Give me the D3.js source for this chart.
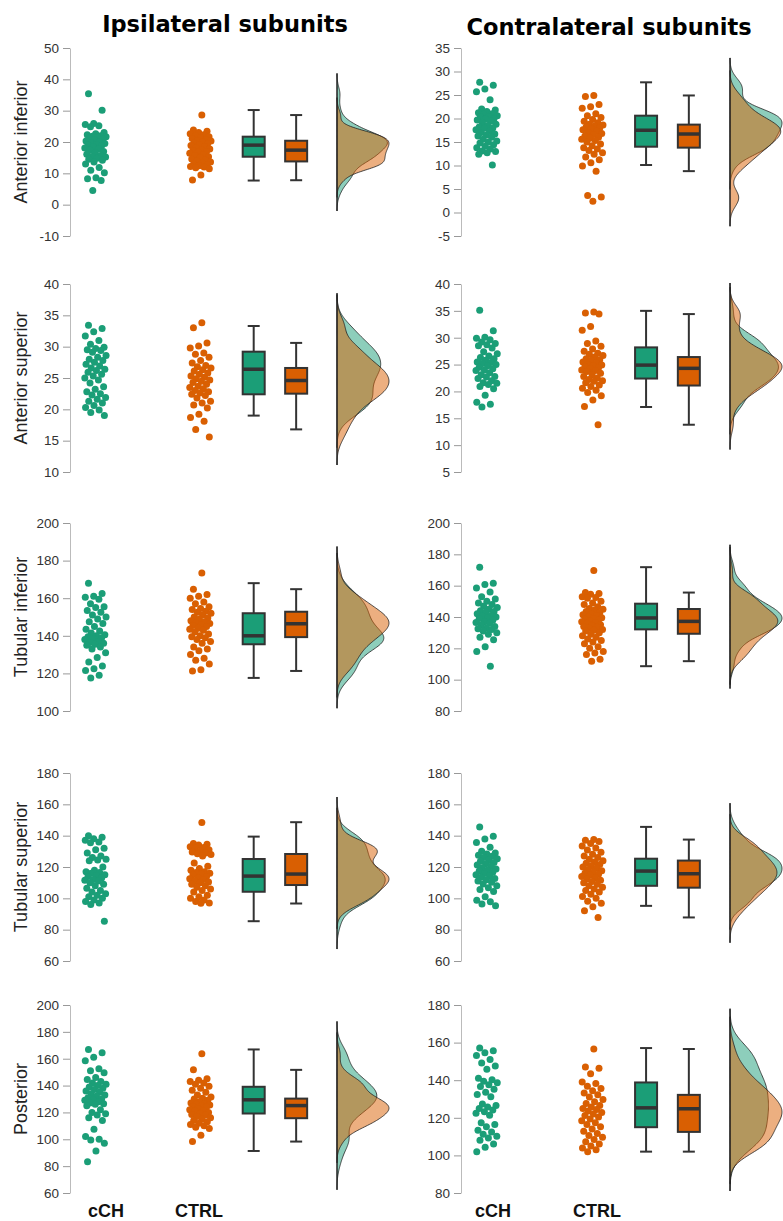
<!DOCTYPE html>
<html>
<head>
<meta charset="utf-8">
<script src="https://cdn.jsdelivr.net/npm/d3@7"></script>
<style>
  body { margin: 0; background: #fff; }
</style>
</head>
<body>
<div id="chart"></div>
<script>
// ---- data ----
const groups = ["cCH", "CTRL"];
const sides = ["Ipsilateral subunits", "Contralateral subunits"];
const subunits = ["Anterior inferior", "Anterior superior", "Tubular inferior", "Tubular superior", "Posterior"];

// y tick values per panel
const ipsiTicks = [
  [-10, 0, 10, 20, 30, 40, 50],
  [10, 15, 20, 25, 30, 35, 40],
  [100, 120, 140, 160, 180, 200],
  [60, 80, 100, 120, 140, 160, 180],
  [60, 80, 100, 120, 140, 160, 180, 200]
];
const contraTicks = [
  [-5, 0, 5, 10, 15, 20, 25, 30, 35],
  [5, 10, 15, 20, 25, 30, 35, 40],
  [80, 100, 120, 140, 160, 180, 200],
  [60, 80, 100, 120, 140, 160, 180],
  [80, 100, 120, 140, 160, 180]
];

// ipsilateral raw points
const ipsiAntInfCCH = [35.4, 30.1, 25.9, 25.6, 25.2, 24.9, 23.0, 22.6, 22.3, 22.0, 21.8, 21.7, 21.5, 21.2, 20.9, 20.6, 20.3, 20.0, 19.8, 19.5, 19.2, 19.0, 18.8, 18.5, 18.1, 17.8, 17.4, 17.0, 16.6, 16.1, 15.7, 15.4, 15.2, 14.8, 14.5, 14.2, 13.6, 13.0, 11.9, 11.0, 10.2, 8.6, 8.3, 7.7, 4.5];
const ipsiAntInfCTRL = [28.6, 23.8, 23.4, 23.0, 22.6, 22.3, 22.0, 21.7, 21.4, 21.1, 20.8, 20.5, 20.3, 20.0, 19.8, 19.5, 19.2, 18.9, 18.6, 18.2, 17.8, 17.5, 17.3, 17.0, 16.7, 16.4, 16.0, 15.7, 15.3, 15.0, 14.6, 14.2, 13.9, 13.6, 13.3, 13.0, 12.7, 12.4, 12.2, 12.0, 11.8, 11.5, 9.5, 7.9];
const ipsiAntSupCCH = [33.4, 32.9, 32.4, 31.7, 31.0, 30.4, 29.9, 29.7, 29.5, 29.4, 29.1, 28.6, 28.3, 28.0, 27.8, 27.5, 27.2, 26.9, 26.6, 26.4, 26.2, 25.9, 25.6, 25.3, 25.0, 24.7, 24.2, 23.6, 23.2, 22.8, 22.5, 22.3, 21.9, 21.6, 21.3, 21.0, 20.6, 20.3, 19.9, 19.5, 19.0];
const ipsiAntSupCTRL = [33.8, 33.0, 30.6, 30.1, 29.8, 29.0, 28.8, 28.3, 27.8, 27.4, 27.0, 26.8, 26.6, 26.3, 26.1, 25.8, 25.6, 25.3, 25.1, 24.9, 24.7, 24.5, 24.3, 24.0, 23.7, 23.5, 23.3, 23.0, 22.8, 22.6, 22.4, 22.2, 21.8, 21.3, 21.0, 20.7, 20.2, 19.2, 18.7, 18.1, 16.8, 15.6];
const ipsiTubInfCCH = [168, 162.5, 161, 160.5, 159.5, 157, 155.5, 155, 153.5, 152.5, 151, 150, 149, 147.5, 146.5, 145, 143.5, 142.5, 141.5, 140.5, 140, 139.5, 139, 138.5, 138, 137, 136.5, 136, 135.5, 135, 134, 133, 131, 128.5, 126, 124, 122.5, 121.5, 119, 117.5];
const ipsiTubInfCTRL = [173.4, 164.8, 162, 161, 160, 158, 157, 155.5, 154.5, 154, 153, 152.5, 152, 151, 150, 149.5, 149, 148, 147.5, 147, 146.5, 146, 145.5, 145, 144, 143.5, 143, 142, 141, 140, 139.5, 139, 138, 137, 136, 134, 133, 132, 130, 128, 127, 125, 122, 121.3];
const ipsiTubSupCCH = [140, 139, 138, 137, 136, 135.5, 132, 131, 129, 127, 126, 125, 124.5, 124, 120, 118, 117, 116.5, 116, 115, 114.5, 114, 113, 112, 111.5, 111, 110, 109, 108, 106.5, 105, 104, 103, 102, 101, 100, 99, 98, 97, 96, 85.4];
const ipsiTubSupCTRL = [148.4, 135, 134.5, 134, 133, 132.5, 132, 131, 130, 129.5, 129, 128.5, 128, 127, 122.5, 120.5, 119, 118, 117, 116.5, 116, 115.5, 115, 114, 113, 112.5, 112, 111, 110.5, 110, 109, 108, 107, 106, 105, 104, 102, 101, 100, 99, 98, 97, 96.8];
const ipsiPostCCH = [166.9, 164.5, 161, 158.5, 152.5, 151, 149.5, 146, 144.5, 143, 142, 141, 140, 139, 138, 137, 136, 135, 134, 133, 132, 131, 130, 129.5, 129, 128, 127, 126.5, 126, 125, 122, 120, 119, 118, 116, 114, 107.5, 102, 100, 99.5, 97, 91.3, 83.3];
const ipsiPostCTRL = [163.7, 151.7, 145, 144, 143, 142, 141, 139.5, 138, 136.5, 135, 133, 131.5, 130.5, 130, 129, 128, 127, 126.5, 126, 125.5, 125, 124.5, 124, 123, 122, 121.5, 121, 120, 119, 118.5, 118, 117, 116, 115, 114, 113, 112, 111, 110, 109, 108, 103, 98.3];

// contralateral raw points
const contraAntInfCCH = [27.7, 27.1, 26.3, 25.7, 24.0, 22.0, 21.8, 21.5, 21.2, 21.0, 20.9, 20.6, 20.4, 20.3, 20.0, 19.9, 19.7, 19.4, 19.1, 18.8, 18.5, 18.2, 18.0, 17.9, 17.6, 17.3, 17.0, 16.7, 16.5, 16.3, 16.0, 15.6, 15.2, 15.0, 14.8, 14.4, 14.1, 13.8, 13.5, 13.1, 13.0, 12.7, 12.4, 10.1];
const contraAntInfCTRL = [24.9, 24.7, 23.0, 22.5, 22.2, 21.0, 20.6, 20.2, 19.8, 19.4, 19.1, 18.8, 18.6, 18.4, 18.2, 18.0, 17.8, 17.6, 17.3, 17.0, 16.8, 16.6, 16.3, 16.0, 15.8, 15.6, 15.3, 15.0, 14.6, 14.2, 13.8, 13.5, 13.2, 12.7, 12.4, 11.8, 11.2, 10.6, 9.9, 8.8, 3.6, 3.3, 2.4];
const contraAntSupCCH = [35.1, 31.3, 30.1, 29.9, 29.6, 29.2, 28.9, 28.7, 28.5, 28.1, 27.4, 27.0, 26.6, 26.3, 26.1, 25.8, 25.5, 25.4, 25.2, 25.0, 24.8, 24.5, 24.2, 24.0, 23.9, 23.5, 23.1, 22.8, 22.7, 22.4, 22.0, 21.6, 21.5, 21.3, 20.9, 20.5, 19.3, 18.0, 17.6, 17.1];
const contraAntSupCTRL = [34.8, 34.6, 34.4, 32.1, 31.4, 29.4, 28.9, 28.4, 27.9, 27.5, 27.1, 26.9, 26.7, 26.4, 26.1, 25.9, 25.8, 25.5, 25.3, 25.0, 24.9, 24.8, 24.6, 24.4, 24.2, 24.0, 23.9, 23.7, 23.4, 23.1, 22.8, 22.5, 22.2, 22.0, 21.9, 21.6, 21.2, 20.9, 20.6, 20.2, 19.8, 19.2, 18.4, 17.2, 13.8];
const contraTubInfCCH = [171.8, 161.5, 160.8, 158.5, 156, 153, 151.5, 150, 149, 148, 147, 146, 145, 144, 143.5, 143, 142, 141, 140.5, 140, 139.5, 139, 138, 137, 136.5, 136, 135, 134, 133, 132.5, 132, 131, 130, 129, 127, 125.5, 121, 118, 108.6];
const contraTubInfCTRL = [169.7, 155.6, 155, 154.5, 153, 152.5, 152, 150, 149, 148, 146.5, 145.5, 145, 144.5, 143.5, 142.5, 142, 141.5, 141, 140, 139.5, 139, 138.5, 138, 137.5, 137, 136.5, 136, 135, 134.5, 134, 133.5, 133, 132, 131.5, 131, 130, 129, 128, 127, 126, 125, 124, 123, 121, 120, 118, 117, 116, 113, 111.8];
const contraTubSupCCH = [145.6, 139.7, 137.8, 135.6, 132.6, 130.1, 129.0, 128.3, 127.5, 126.8, 126.0, 125.3, 124.5, 123.6, 122.8, 122.0, 121.2, 120.4, 119.6, 118.8, 118.0, 117.4, 116.6, 115.8, 115.0, 114.2, 113.4, 112.6, 111.8, 111.0, 110.2, 109.2, 108.0, 106.8, 105.6, 104.4, 101.0, 98.8, 97.8, 96.4, 95.2];
const contraTubSupCTRL = [137.6, 137.0, 136.2, 135.0, 133.4, 132.2, 130.8, 129.4, 128.2, 127.0, 126.0, 125.0, 124.0, 123.2, 122.4, 121.6, 120.8, 120.0, 119.2, 118.4, 117.6, 116.8, 116.0, 115.4, 114.8, 114.0, 113.2, 112.4, 111.6, 110.8, 110.0, 109.0, 108.0, 107.0, 106.0, 105.0, 104.0, 102.6, 101.2, 100.0, 98.2, 96.8, 94.6, 92.0, 87.8];
const contraPostCCH = [157.1, 155.6, 154.6, 153.2, 151.0, 149.2, 147.6, 145.8, 141.0, 140.2, 139.4, 138.6, 137.6, 136.6, 135.2, 133.6, 132.4, 131.2, 127.4, 126.6, 125.8, 125.0, 124.2, 123.2, 122.4, 121.4, 117.4, 116.4, 115.2, 113.4, 112.4, 111.2, 110.2, 109.2, 108.0, 106.0, 104.4, 102.0];
const contraPostCTRL = [156.6, 147.0, 146.4, 143.4, 139.0, 138.2, 136.8, 135.6, 134.4, 133.2, 132.2, 131.0, 129.8, 128.6, 127.6, 126.6, 125.8, 125.0, 124.4, 123.6, 122.8, 122.0, 121.2, 120.4, 119.4, 118.4, 117.4, 116.4, 115.2, 114.0, 112.8, 111.6, 110.6, 109.6, 108.4, 107.2, 106.0, 105.0, 104.0, 103.0, 102.0];

// box summaries: [lower whisker, Q1, median, Q3, upper whisker]
const ipsiAntInfBoxCCH = [7.7, 15.3, 19.0, 21.7, 30.2];
const ipsiAntInfBoxCTRL = [7.8, 13.8, 17.4, 20.4, 28.6];
const ipsiAntSupBoxCCH = [19.0, 22.4, 26.4, 29.2, 33.3];
const ipsiAntSupBoxCTRL = [16.8, 22.5, 24.6, 26.6, 30.6];
const ipsiTubInfBoxCCH = [117.6, 135.5, 140.0, 152.0, 168.0];
const ipsiTubInfBoxCTRL = [121.3, 139.3, 146.4, 152.8, 164.8];
const ipsiTubSupBoxCCH = [85.4, 104.2, 114.2, 125.1, 139.4];
const ipsiTubSupBoxCTRL = [96.7, 108.5, 115.5, 128.3, 148.6];
const ipsiPostBoxCCH = [91.3, 119.2, 129.4, 139.1, 166.9];
const ipsiPostBoxCTRL = [98.3, 115.7, 125.1, 130.3, 151.7];
const contraAntInfBoxCCH = [10.1, 14.0, 17.5, 20.6, 27.7];
const contraAntInfBoxCTRL = [8.8, 13.8, 16.7, 18.7, 24.9];
const contraAntSupBoxCCH = [17.1, 22.4, 24.9, 28.2, 35.0];
const contraAntSupBoxCTRL = [13.8, 21.1, 24.3, 26.4, 34.4];
const contraTubInfBoxCCH = [108.6, 132.1, 139.4, 148.5, 171.8];
const contraTubInfBoxCTRL = [111.8, 129.3, 137.2, 145.1, 155.6];
const contraTubSupBoxCCH = [95.2, 108.0, 117.4, 125.3, 145.6];
const contraTubSupBoxCTRL = [87.8, 106.8, 115.7, 124.1, 137.5];
const contraPostBoxCCH = [102.0, 115.0, 125.3, 138.8, 157.1];
const contraPostBoxCTRL = [102.0, 112.5, 124.8, 132.2, 156.6];

// ---- assemble panels ----
const ipsiPoints = [[ipsiAntInfCCH, ipsiAntInfCTRL], [ipsiAntSupCCH, ipsiAntSupCTRL], [ipsiTubInfCCH, ipsiTubInfCTRL], [ipsiTubSupCCH, ipsiTubSupCTRL], [ipsiPostCCH, ipsiPostCTRL]];
const contraPoints = [[contraAntInfCCH, contraAntInfCTRL], [contraAntSupCCH, contraAntSupCTRL], [contraTubInfCCH, contraTubInfCTRL], [contraTubSupCCH, contraTubSupCTRL], [contraPostCCH, contraPostCTRL]];
const ipsiBoxes = [[ipsiAntInfBoxCCH, ipsiAntInfBoxCTRL], [ipsiAntSupBoxCCH, ipsiAntSupBoxCTRL], [ipsiTubInfBoxCCH, ipsiTubInfBoxCTRL], [ipsiTubSupBoxCCH, ipsiTubSupBoxCTRL], [ipsiPostBoxCCH, ipsiPostBoxCTRL]];
const contraBoxes = [[contraAntInfBoxCCH, contraAntInfBoxCTRL], [contraAntSupBoxCCH, contraAntSupBoxCTRL], [contraTubInfBoxCCH, contraTubInfBoxCTRL], [contraTubSupBoxCCH, contraTubSupBoxCTRL], [contraPostBoxCCH, contraPostBoxCTRL]];

const panels = [];
subunits.forEach((name, r) => {
    panels.push({ col: 0, row: r, name, ticks: ipsiTicks[r], points: ipsiPoints[r], boxes: ipsiBoxes[r] });
    panels.push({ col: 1, row: r, name, ticks: contraTicks[r], points: contraPoints[r], boxes: contraBoxes[r] });
});

// ---- layout ----
const width = 783, height = 1221;
const rowTop = [48, 284, 523, 773, 1005];
const rowH = 188;
const colRange = [[70, 337], [461, 730]];
const colClip = [[0, 390], [392, 783]];
const slotPts = [0.094, 0.488], slotBox = [0.688, 0.847];
const labX = [[106, 199], [493, 597]];
const boxW = 22, capW = 12, dotR = 3.5, jitter = 11, densW = 52;

const color = d3.scaleOrdinal().domain(groups).range(["#1b9e77", "#d95f02"]);
const fillLight = d3.scaleOrdinal().domain(groups).range(["rgba(27,158,119,0.5)", "rgba(217,95,2,0.5)"]);

const svg = d3.select("#chart").append("svg")
    .attr("width", width)
    .attr("height", height)
    .style("font-family", "'Liberation Sans', Arial, sans-serif");

// gaussian kde with R-style nrd0 bandwidth, extended 3 bandwidths beyond the data
function kde(values) {
    const s = values.slice().sort(d3.ascending);
    const n = s.length;
    const iqr = d3.quantile(s, 0.75) - d3.quantile(s, 0.25);
    const bw = 0.9 * Math.min(d3.deviation(s), iqr / 1.34) * Math.pow(n, -0.2);
    const lo = s[0] - 3 * bw, hi = s[n - 1] + 3 * bw;
    return d3.range(0, 161).map(i => {
        const t = lo + (hi - lo) * i / 160;
        const dens = d3.mean(s, v => Math.exp(-0.5 * ((t - v) / bw) ** 2)) / (bw * Math.sqrt(2 * Math.PI));
        return [t, dens];
    });
}

// titles
sides.forEach((t, c) => {
    svg.append("text")
        .attr("x", c === 0 ? 225 : 609)
        .attr("y", c === 0 ? 32 : 35)
        .attr("text-anchor", "middle")
        .style("font-family", "'DejaVu Sans', Verdana, sans-serif")
        .style("font-weight", "bold")
        .style("font-size", "22.5px")
        .attr("fill", "#000")
        .text(t);
});

panels.forEach((p, i) => {
    const top = rowTop[p.row];
    const y = d3.scaleLinear()
        .domain([p.ticks[0], p.ticks[p.ticks.length - 1]])
        .range([top + rowH, top]);
    const x = d3.scaleLinear().domain([0, 1]).range(colRange[p.col]);

    const clipId = "clip" + i;
    svg.append("clipPath").attr("id", clipId)
        .append("rect")
        .attr("x", colClip[p.col][0]).attr("y", top - 40)
        .attr("width", colClip[p.col][1] - colClip[p.col][0]).attr("height", rowH + 80);

    const g = svg.append("g").attr("clip-path", `url(#${clipId})`);

    // axis
    const ax = svg.append("g")
        .attr("transform", `translate(${x(0)},0)`)
        .call(d3.axisLeft(y).tickValues(p.ticks).tickFormat(d => String(d))
            .tickSize(7).tickSizeOuter(0).tickPadding(4));
    ax.select(".domain").attr("stroke", "#bbb");
    ax.selectAll(".tick line").attr("stroke", "#999");
    ax.selectAll(".tick text")
        .attr("fill", "#333")
        .style("font-family", "'Liberation Sans', Arial, sans-serif")
        .style("font-size", "13.5px");

    if (p.col === 0) {
        svg.append("text")
            .attr("transform", `translate(27,${top + rowH / 2}) rotate(-90)`)
            .attr("text-anchor", "middle")
            .attr("fill", "#222")
            .style("font-size", "18px")
            .text(p.name);
    }

    // densities
    const dens = p.points.map(kde);
    const maxD = d3.max(dens, d => d3.max(d, e => e[1]));
    const w = d3.scaleLinear().domain([0, maxD]).range([0, densW]);
    const x0 = x(1);
    const area = d3.area()
        .y(d => y(d[0]))
        .x0(x0)
        .x1(d => x0 + w(d[1]))
        .curve(d3.curveBasis);
    dens.forEach((d, k) => {
        g.append("path")
            .datum(d)
            .attr("d", area)
            .attr("fill", fillLight(groups[k]))
            .attr("stroke", "#222")
            .attr("stroke-width", 0.8);
    });
    const allT = dens.flat().map(d => d[0]);
    g.append("line")
        .attr("x1", x0).attr("x2", x0)
        .attr("y1", y(d3.min(allT))).attr("y2", y(d3.max(allT)))
        .attr("stroke", "#222").attr("stroke-width", 1.2);

    // jittered points (deterministic golden-ratio spread)
    p.points.forEach((vals, k) => {
        const cx = x(slotPts[k]);
        g.selectAll(null)
            .data(vals)
            .enter()
            .append("circle")
            .attr("cx", (d, j) => cx + (((j * 0.618034 + 0.37 * k + 0.2) % 1) - 0.5) * 2 * jitter)
            .attr("cy", d => y(d))
            .attr("r", dotR)
            .attr("fill", color(groups[k]));
    });

    // boxplots
    p.boxes.forEach((b, k) => {
        const cx = x(slotBox[k]);
        const bg = g.append("g").attr("stroke", "#333");
        bg.append("line")
            .attr("x1", cx).attr("x2", cx)
            .attr("y1", y(b[0])).attr("y2", y(b[4]))
            .attr("stroke-width", 2);
        [b[0], b[4]].forEach(v => {
            bg.append("line")
                .attr("x1", cx - capW / 2).attr("x2", cx + capW / 2)
                .attr("y1", y(v)).attr("y2", y(v))
                .attr("stroke-width", 2);
        });
        bg.append("rect")
            .attr("x", cx - boxW / 2).attr("width", boxW)
            .attr("y", y(b[3])).attr("height", y(b[1]) - y(b[3]))
            .attr("fill", color(groups[k]))
            .attr("stroke-width", 2);
        bg.append("line")
            .attr("x1", cx - boxW / 2).attr("x2", cx + boxW / 2)
            .attr("y1", y(b[2])).attr("y2", y(b[2]))
            .attr("stroke-width", 3.5);
    });

    // group labels under the bottom row
    if (p.row === subunits.length - 1) {
        groups.forEach((gname, k) => {
            svg.append("text")
                .attr("x", labX[p.col][k])
                .attr("y", 1217)
                .attr("text-anchor", "middle")
                .attr("fill", "#111")
                .style("font-weight", "bold")
                .style("font-size", "18px")
                .text(gname);
        });
    }
});
</script>
</body>
</html>
